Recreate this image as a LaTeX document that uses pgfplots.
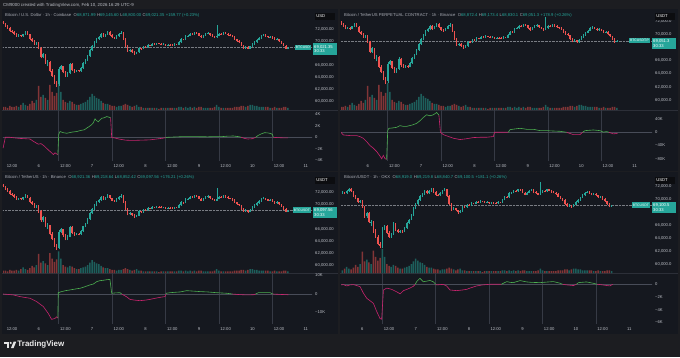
\documentclass[border=0pt]{standalone}
\usepackage{pgfplots}
\usepackage{pgfplotstable}
\pgfplotsset{compat=1.18}
\usepackage{fontspec}
\setmainfont{Liberation Sans}
\definecolor{outerbg}{RGB}{28,29,33}
\definecolor{panelbg}{RGB}{21,24,31}
\definecolor{bordc}{RGB}{44,47,56}
\definecolor{tvtext}{RGB}{188,191,198}
\definecolor{lgtext}{RGB}{170,173,182}
\definecolor{upc}{RGB}{38,166,154}
\definecolor{dnc}{RGB}{239,83,80}
\definecolor{cvdg}{RGB}{76,175,80}
\definecolor{cvdm}{RGB}{200,36,110}
\definecolor{sess}{RGB}{54,58,69}
\definecolor{zeroln}{RGB}{72,76,88}
\definecolor{usdbg}{RGB}{12,13,16}
\newcommand{\tvf}{\fontsize{4.2}{4.6}\selectfont}
\newcommand{\ohlc}[6]{\hspace{2.5bp}\textcolor{lgtext}{O}\textcolor{upc}{#1}\hspace{1.5bp}\textcolor{lgtext}{H}\textcolor{upc}{#2}\hspace{1.5bp}\textcolor{lgtext}{L}\textcolor{upc}{#3}\hspace{1.5bp}\textcolor{lgtext}{C}\textcolor{upc}{#4}\hspace{1.5bp}\textcolor{upc}{#5 (#6)}}

\pgfplotstableread{
t o h l c v
8 73350 73500 72900 73050 3
9 73050 73150 72500 72650 3
10 72650 72800 72150 72300 2
11 72300 72400 71650 71800 4
12 71800 72000 71500 71650 3
13 71650 71800 71150 71300 3
14 71300 71450 70800 70950 4
15 70950 71200 70850 71050 3
16 71050 71150 70750 70900 5
17 70900 71350 70800 71250 7
18 71250 71750 71150 71600 5
19 71600 71700 71100 71200 4
20 71200 71300 70300 70450 6
21 70450 70600 70000 70150 9
22 70150 70250 69450 69600 7
23 69600 69950 69400 69800 10
24 69800 69900 68700 68900 24
25 68900 69050 67200 67400 13
26 67400 68100 67200 67900 15
27 67900 68000 66300 66500 12
28 66500 66900 65900 66600 10
29 66600 66700 64900 65100 25
30 65100 65400 64100 64300 18
31 64300 64500 63000 63200 14
32 63200 63500 62500 62900 17
33 62900 65800 62600 65500 27
34 65500 66100 65300 65900 18
35 65900 66000 64700 64900 10
36 64900 65100 64100 64300 8
37 64300 64900 64150 64700 7
38 64700 66500 64600 66300 9
39 66300 66400 65100 65300 8
40 65300 65450 64850 65000 6
41 65000 65350 64900 65200 5
42 65200 65300 64900 65100 5
43 65100 65750 65000 65600 6
44 65600 66550 65500 66400 7
45 66400 67050 66250 66900 8
46 66900 67750 66800 67600 10
47 67600 68750 67500 68600 13
48 68600 69450 68450 69300 16
49 69300 70050 69150 69900 14
50 69900 70650 69750 70500 12
51 70500 70950 70350 70800 11
52 70800 71450 70650 71300 9
53 71300 71400 70750 70900 7
54 70900 71350 70800 71200 6
55 71200 71750 71100 71600 6
56 71600 71700 70950 71100 5
57 71100 71200 70550 70700 4
58 70700 70850 70450 70600 4
59 70600 71050 70500 70900 3
60 70900 71400 70800 71300 4
61 71300 71800 71200 71500 4
62 71500 71600 70350 70500 5
63 70500 70600 69150 69300 6
64 69300 69400 68250 68400 5
65 68400 68750 68300 68600 4
66 68600 68700 68150 68300 3
67 68300 68400 67800 68000 4
68 68000 68350 67900 68200 5
69 68200 69050 68100 68900 3
70 68900 69000 68650 68800 3
71 68800 69350 68700 69200 2
72 69200 69300 68950 69100 2
73 69100 69550 69000 69400 2
74 69400 69500 69250 69350 2
75 69350 69750 69300 69600 2
76 69600 69700 69450 69550 2
77 69550 69850 69450 69700 2
78 69700 69800 69550 69650 1
79 69650 69750 69400 69500 2
80 69500 69700 69400 69550 2
81 69550 69650 69300 69400 2
82 69400 69650 69350 69500 2
83 69500 69600 69350 69450 2
84 69450 69550 69300 69400 2
85 69400 69700 69350 69550 2
86 69550 69650 69400 69500 2
87 69500 70050 69450 69900 3
88 69900 70550 69850 70400 3
89 70400 70500 70200 70300 2
90 70300 71050 70250 70900 3
91 70900 71150 70800 71000 2
92 71000 71450 70900 71300 3
93 71300 71400 71100 71200 2
94 71200 71650 71150 71500 3
95 71500 71600 71300 71400 2
96 71400 71500 70900 71000 3
97 71000 71100 70600 70700 3
98 70700 71150 70650 71000 2
99 71000 71450 70950 71300 2
100 71300 71550 71200 71400 2
101 71400 71500 71000 71100 2
102 71100 71200 70800 70900 2
103 70900 71000 70600 70700 3
104 70700 72700 70650 71000 5
105 71000 71450 70900 71300 3
106 71300 71400 71100 71200 2
107 71200 71650 71150 71500 2
108 71500 71600 71200 71300 2
109 71300 71400 71000 71100 2
110 71100 71200 70900 71000 2
111 71000 71100 70700 70800 2
112 70800 70900 70300 70400 3
113 70400 70500 70000 70100 3
114 70100 70200 69800 69900 3
115 69900 70000 69200 69300 4
116 69300 69400 68800 68900 4
117 68900 69250 68850 69100 3
118 69100 69200 68700 68800 4
119 68800 69350 68750 69200 5
120 69200 69750 69100 69600 5
121 69600 70050 69500 69900 4
122 69900 70400 69800 70300 4
123 70300 70750 70200 70600 3
124 70600 71150 70500 71000 3
125 71000 71250 70900 71100 3
126 71100 71200 70800 70900 3
127 70900 71000 70600 70700 3
128 70700 70950 70600 70800 2
129 70800 70900 70500 70600 2
130 70600 70700 70200 70300 3
131 70300 70550 70200 70400 2
132 70400 70500 69950 70050 2
133 70050 70150 69600 69700 2
134 69700 69800 69200 69300 3
135 69300 69400 68750 68860 3
136 68872 69146 68800 69021 2
}\pricetab

\pgfplotsset{
 tvbase/.style={scale only axis, axis line style={draw=none},
   major tick length=0pt, tick style={draw=none},
   scaled x ticks=false, scaled y ticks=false,
   ticklabel style={font=\tvf, text=tvtext, inner sep=0pt},
   xtick=\empty, ytick=\empty},
 pricepane/.style={tvbase, height=100bp, yticklabel pos=right,
   yticklabel style={xshift=3bp}},
 volpane/.style={tvbase, height=100bp, ymin=0, hide axis},
 cvdpane/.style={tvbase, height=50bp, yticklabel pos=right,
   yticklabel style={xshift=3bp},
   xticklabel style={yshift=-3bp}},
}

\newcommand{\candles}{%
\addplot[draw=upc, line width=0.45bp, -, quiver={u=0, v={\thisrow{h}-\thisrow{l}}},
  restrict expr to domain={\thisrow{c}-\thisrow{o}}{0:1000000}]
  table[x=t, y=l] {\pricetab};
\addplot[draw=upc, line width=1.45bp, -, quiver={u=0, v={\thisrow{c}-\thisrow{o}}},
  restrict expr to domain={\thisrow{c}-\thisrow{o}}{0:1000000}]
  table[x=t, y=o] {\pricetab};
\addplot[draw=dnc, line width=0.45bp, -, quiver={u=0, v={\thisrow{h}-\thisrow{l}}},
  restrict expr to domain={\thisrow{c}-\thisrow{o}}{-1000000:-0.5}]
  table[x=t, y=l] {\pricetab};
\addplot[draw=dnc, line width=1.45bp, -, quiver={u=0, v={\thisrow{o}-\thisrow{c}}},
  restrict expr to domain={\thisrow{c}-\thisrow{o}}{-1000000:-0.5}]
  table[x=t, y=c] {\pricetab};
}
\newcommand{\volbars}{%
\addplot[ybar, bar width=1.5bp, bar shift=0pt, draw=none, fill=upc, fill opacity=0.5,
  restrict expr to domain={\thisrow{c}-\thisrow{o}}{0:1000000}] table[x=t, y=v] {\pricetab};
\addplot[ybar, bar width=1.5bp, bar shift=0pt, draw=none, fill=dnc, fill opacity=0.5,
  restrict expr to domain={\thisrow{c}-\thisrow{o}}{-1000000:-0.5}] table[x=t, y=v] {\pricetab};
}
\newcommand{\sesslines}{%
\pgfplotsinvokeforeach{33,57,81,105,129}{\addplot[sess, line width=0.5bp] coordinates {(##1,-200)(##1,200)};}
\addplot[zeroln, line width=0.4bp] coordinates {(0,0)(200,0)};
}

\begin{document}
\begin{tikzpicture}[x=1bp,y=1bp]
\fill[outerbg] (0,0) rectangle (680,357);
\fill[panelbg] (2,186) rectangle (338,348);
\fill[panelbg] (340,186) rectangle (678,348);
\fill[panelbg] (2,23) rectangle (338,185);
\fill[panelbg] (340,23) rectangle (678,185);
\draw[bordc, line width=0.5bp] (2,246.5) -- (338,246.5);
\draw[bordc, line width=0.5bp] (340,246.5) -- (678,246.5);
\draw[bordc, line width=0.5bp] (2,83.5) -- (338,83.5);
\draw[bordc, line width=0.5bp] (340,83.5) -- (678,83.5);

% ================= Panel 1 =================
\begin{axis}[volpane, at={(3bp,247bp)}, anchor=south west, width=309bp, xmin=7.96, xmax=146.8, ymax=100]
\volbars
\end{axis}
\begin{axis}[pricepane, at={(3bp,247bp)}, anchor=south west, width=309bp, xmin=7.96, xmax=146.8, ymin=58617, ymax=75283,
  ytick={60000,62000,64000,66000,70000,72000},
  yticklabels={{60,000.00},{62,000.00},{64,000.00},{66,000.00},{70,000.00},{72,000.00}}]
\addplot[densely dotted, color=tvtext!60!panelbg, line width=0.4bp] coordinates {(0,69021)(200,69021)};
\candles
\end{axis}
\begin{axis}[cvdpane, at={(3bp,196bp)}, anchor=south west, width=309bp, xmin=7.96, xmax=146.8, ymin=-4.12, ymax=4.57,
  ytick={-4,-2,0,2,4}, yticklabels={−4K,−2K,0,2K,4K},
  xtick={12,24,36,48,60,72,84,96,108,120,132,144},
  xticklabels={12:00,6,12:00,7,12:00,8,12:00,9,12:00,10,12:00,11}]
\sesslines
\addplot[cvdm, line width=0.6bp] coordinates {(8,-1.9)(9,0)(11,0)(13,-0.1)(15.6,-0.2)(18,-0.25)(20.1,-0.3)(21.6,-0.7)(23.8,-1.2)(25,-1.1)(26.1,-1.4)(27,-1.7)(28.3,-2.2)(29.5,-2.6)(30.6,-3.0)(31.3,-2.7)(32.1,-2.9)(32.6,-3.0)};
\addplot[cvdg, line width=0.6bp] coordinates {(32.6,-3.0)(33,0.5)(33.6,1.0)(35,0.8)(36.6,0.7)(39,0.9)(41.1,1.0)(43,1.2)(44.5,1.3)(45.6,1.6)(46.8,1.9)(47.8,2.2)(48.5,2.5)(49.3,3.2)(50,2.9)(50.8,2.7)(51.5,3.0)(52.3,3.3)(53.5,3.4)(54.6,3.6)(55.5,3.5)(56.3,3.4)};
\addplot[cvdm, line width=0.6bp] coordinates {(56.3,3.4)(56.8,-0.05)(58,-0.1)(60,-0.3)(63,-0.5)(66,-0.55)(70,-0.5)(74,-0.45)(77,-0.3)(80,-0.15)(81,-0.05)};
\addplot[cvdg, line width=0.6bp] coordinates {(81,-0.05)(82,0.0)(85,0.05)(88,0.1)(92,0.12)(96,0.1)(100,0.08)(104,0.12)(106,0.1)(109,0.2)(111.5,0.22)(114,0.1)(115,0)};
\addplot[cvdm, line width=0.6bp] coordinates {(115,0)(116.5,-0.2)(118,-0.3)(120,-0.25)(121.5,0)};
\addplot[cvdg, line width=0.6bp] coordinates {(121.5,0)(122.5,0.3)(124,0.6)(125.5,0.8)(127,0.75)(128.3,0.65)(129,0.5)(129.4,0)};
\addplot[cvdm, line width=0.6bp] coordinates {(129.4,0)(131,-0.05)(134,-0.1)(136,-0.1)};
\end{axis}

% ================= Panel 2 =================
\begin{axis}[volpane, at={(341bp,247bp)}, anchor=south west, width=311bp, xmin=12, xmax=151.8, ymax=100]
\volbars
\end{axis}
\begin{axis}[pricepane, at={(341bp,247bp)}, anchor=south west, width=311bp, xmin=12, xmax=151.8, ymin=58473, ymax=73743,
  ytick={60000,62000,64000,66000,70000,72000},
  yticklabels={{60,000.0},{62,000.0},{64,000.0},{66,000.0},{70,000.0},{72,000.0}}]
\addplot[densely dotted, color=tvtext!60!panelbg, line width=0.4bp] coordinates {(0,69051)(200,69051)};
\candles
\end{axis}
\begin{axis}[cvdpane, at={(341bp,196bp)}, anchor=south west, width=311bp, xmin=12, xmax=151.8, ymin=-87, ymax=64.5,
  ytick={-80,-40,0,40}, yticklabels={−80K,−40K,0,40K},
  xtick={24,36,48,60,72,84,96,108,120,132,144},
  xticklabels={6,12:00,7,12:00,8,12:00,9,12:00,10,12:00,11}]
\sesslines
\addplot[cvdm, line width=0.6bp] coordinates {(12,0)(13,-8)(14.5,-9)(16,-10)(19,-10)(20.5,-13)(22,-18)(23.5,-28)(25,-40)(26.5,-48)(28,-58)(29.3,-70)(30.3,-80)(31,-70)(31.8,-80)(32.5,-82)};
\addplot[cvdg, line width=0.6bp] coordinates {(32.5,-82)(33,5)(33.5,12)(35,13)(37,15)(38.5,20)(40,18)(41.5,18)(44,22)(46,27)(47.5,35)(49,45)(50.5,53)(52,50)(53.5,53)(55,60)(56,52)};
\addplot[cvdm, line width=0.6bp] coordinates {(56,52)(56.7,0)(58,-7)(60,-12)(62.5,-18)(65.5,-22)(68,-20)(71.5,-16)(75,-15)(77.5,-15)(80.5,-13)(81,0)(86.5,0)(87.2,0)};
\addplot[cvdg, line width=0.6bp] coordinates {(87.2,0)(88,8)(90,10)(92.5,12)(95.5,9)(98.5,9)(101.5,5)(104.4,5)(107,4)(110.4,3)(113.4,0)};
\addplot[cvdm, line width=0.6bp] coordinates {(113.4,0)(116.4,-7)(119.4,-7)(120.6,0)};
\addplot[cvdg, line width=0.6bp] coordinates {(120.6,0)(121.7,5)(125.4,7)(128.4,5)(129.9,0.5)(131.4,2)(132.5,0)};
\addplot[cvdm, line width=0.6bp] coordinates {(132.5,0)(134.4,-5)(136.3,-3)};
\end{axis}

% ================= Panel 3 =================
\begin{axis}[volpane, at={(3bp,84bp)}, anchor=south west, width=309bp, xmin=7.96, xmax=146.8, ymax=125]
\volbars
\end{axis}
\begin{axis}[pricepane, at={(3bp,84bp)}, anchor=south west, width=309bp, xmin=7.96, xmax=146.8, ymin=58672, ymax=75272,
  ytick={60000,62000,64000,66000,70000,72000},
  yticklabels={{60,000.00},{62,000.00},{64,000.00},{66,000.00},{70,000.00},{72,000.00}}]
\addplot[densely dotted, color=tvtext!60!panelbg, line width=0.4bp] coordinates {(0,69097)(200,69097)};
\candles
\end{axis}
\begin{axis}[cvdpane, at={(3bp,33bp)}, anchor=south west, width=309bp, xmin=7.96, xmax=146.8, ymin=-16.2, ymax=10.8,
  ytick={-10,0,10}, yticklabels={−10K,0,10K},
  xtick={12,24,36,48,60,72,84,96,108,120,132,144},
  xticklabels={12:00,6,12:00,7,12:00,8,12:00,9,12:00,10,12:00,11}]
\sesslines
\addplot[cvdm, line width=0.6bp] coordinates {(8,0)(10,-0.2)(12.6,-0.5)(15.6,-1.4)(18,-1.9)(20.1,-2.3)(23.1,-4.1)(26.1,-6.8)(28.3,-10.5)(29.8,-13.7)(31.3,-13.2)(32.1,-12.3)(32.6,-13)};
\addplot[cvdg, line width=0.6bp] coordinates {(32.6,-13)(32.8,0.7)(34.3,1.3)(36,1.8)(38.1,2.2)(40,2.6)(42.6,3.1)(44,3.6)(45.6,4.3)(47,4.9)(48.6,5.4)(50.1,6.7)(51.5,7.2)(53,7.4)(54.5,7.7)(56,7.9)(56.8,0.4)(58.5,0.6)(60.5,0.7)(61.3,0)};
\addplot[cvdm, line width=0.6bp] coordinates {(61.3,0)(62,-0.5)(63.5,-1.5)(65,-2.9)(67,-3.3)(69.5,-3.6)(72,-3.3)(74,-2.9)(76,-2.4)(78.5,-1.8)(80.8,-1.4)(81.2,0)};
\addplot[cvdg, line width=0.6bp] coordinates {(81.2,0)(81.3,0.4)(83,0.7)(85,0.9)(87.5,1.1)(90.5,1.8)(93,1.6)(96.5,1.3)(100,1.1)(104,0.7)(108.5,0.4)(111,0)};
\addplot[cvdm, line width=0.6bp] coordinates {(111,0)(114,-0.3)(117.5,-0.5)(120.5,-0.4)(121.5,0)};
\addplot[cvdg, line width=0.6bp] coordinates {(121.5,0)(122.7,0.7)(125,0.75)(128,0.7)(129.2,0)};
\addplot[cvdm, line width=0.6bp] coordinates {(129.2,0)(132,-0.2)(136.2,-0.4)};
\end{axis}

% ================= Panel 4 =================
\begin{axis}[volpane, at={(341bp,84bp)}, anchor=south west, width=311bp, xmin=14.43, xmax=154.2, ymax=112]
\volbars
\end{axis}
\begin{axis}[pricepane, at={(341bp,84bp)}, anchor=south west, width=311bp, xmin=14.43, xmax=154.2, ymin=58731, ymax=74021,
  ytick={60000,62000,64000,66000,70000,72000},
  yticklabels={{60,000.0},{62,000.0},{64,000.0},{66,000.0},{70,000.0},{72,000.0}}]
\addplot[densely dotted, color=tvtext!60!panelbg, line width=0.4bp] coordinates {(0,69100)(200,69100)};
\candles
\end{axis}
\begin{axis}[cvdpane, at={(341bp,33bp)}, anchor=south west, width=311bp, xmin=14.43, xmax=154.2, ymin=-6.25, ymax=1.62,
  ytick={-6,-4,-2,0}, yticklabels={−6K,−4K,−2K,0},
  xtick={24,36,48,60,72,84,96,108,120,132,144},
  xticklabels={6,12:00,7,12:00,8,12:00,9,12:00,10,12:00,11}]
\sesslines
\addplot[cvdm, line width=0.6bp] coordinates {(14.4,-0.1)(15.5,-0.05)(17,-0.26)(18.5,-0.1)(20,-0.05)(21.5,-0.2)(23,-0.37)(24.5,-1.4)(26,-2.2)(27.5,-2.6)(29,-3.0)(30.5,-4.3)(32,-5.4)(32.7,-5.5)(33.5,-0.9)(35,-0.6)(37.2,-0.8)(39.5,-1.2)(41,-1.5)(42.5,-1.0)(44,-0.8)(45.4,-0.6)(47,-0.3)(47.8,0)};
\addplot[cvdg, line width=0.6bp] coordinates {(47.8,0)(48.4,0.4)(49.9,0.95)(51.4,0.4)(53,0.5)(54.4,0.6)(55.9,0.4)(57,0)};
\addplot[cvdm, line width=0.6bp] coordinates {(57,0)(57.4,-0.1)(59,-0.05)(60.4,-0.02)(61.9,-0.26)(63.4,-0.9)(66.4,-1.0)(69,-0.9)(70.9,-0.8)(72.4,-0.6)(75.4,-0.26)(78,-0.1)(81.4,0)(85,0)(86.5,0)};
\addplot[cvdg, line width=0.6bp] coordinates {(86.5,0)(87.4,0.16)(88.9,0.42)(90.5,0.3)(91.9,0.26)(94.9,0.58)(97.9,0.37)(100,0.3)(103.9,0.26)(107,0.35)(109.9,0.42)(112.9,0.16)(114,0)};
\addplot[cvdm, line width=0.6bp] coordinates {(114,0)(116,-0.1)(118.9,-0.2)(120.3,0)};
\addplot[cvdg, line width=0.6bp] coordinates {(120.3,0)(121.1,0.26)(124.8,0.37)(127.8,0.16)(129.5,0)};
\addplot[cvdm, line width=0.6bp] coordinates {(129.5,0)(131,-0.05)(133,-0.15)(135.3,-0.26)(136.5,0)};
\end{axis}

% ================= texts and labels =================
\node[anchor=west, inner sep=0, font=\fontsize{4.4}{5}\selectfont, text=tvtext] at (3,352) {CM9000 created with TradingView.com, Feb 10, 2026 16:29 UTC-9};

\node[anchor=west, inner sep=0, font=\tvf] at (5,342) {\textcolor{lgtext}{Bitcoin / U.S. Dollar · 1h · Coinbase}\ohlc{68,871.99}{69,145.60}{68,800.00}{69,021.35}{+159.77}{+0.23\%}};
\node[anchor=west, inner sep=0, font=\tvf] at (344,342) {\textcolor{lgtext}{Bitcoin / TetherUS PERPETUAL CONTRACT · 1h · Binance}\ohlc{68,872.4}{69,173.4}{68,830.1}{69,051.3}{+178.9}{+0.26\%}};
\node[anchor=west, inner sep=0, font=\tvf] at (5,179.7) {\textcolor{lgtext}{Bitcoin / TetherUS · 1h · Binance}\ohlc{68,921.36}{69,218.64}{68,852.42}{69,097.56}{+176.21}{+0.26\%}};
\node[anchor=west, inner sep=0, font=\tvf] at (344,179.7) {\textcolor{lgtext}{Bitcoin/USDT · 1h · OKX}\ohlc{68,919.0}{69,219.8}{68,840.7}{69,100.5}{+181.1}{+0.26\%}};

% currency boxes
\node[anchor=west, fill=usdbg, text=white, font=\tvf, inner sep=1.2bp, minimum height=7bp, text width=17bp, align=left] at (315,340.5) {USD};
\node[anchor=west, fill=usdbg, text=white, font=\tvf, inner sep=1.2bp, minimum height=7bp, text width=17bp, align=left] at (655,340.5) {USDT};
\node[anchor=west, fill=usdbg, text=white, font=\tvf, inner sep=1.2bp, minimum height=7bp, text width=17bp, align=left] at (315,177) {USDT};
\node[anchor=west, fill=usdbg, text=white, font=\tvf, inner sep=1.2bp, minimum height=7bp, text width=17bp, align=left] at (655,177) {USDT};

% last price labels
\node[anchor=east, fill=upc, text=white, font=\fontsize{3.4}{3.6}\selectfont, inner sep=0.9bp, minimum height=5.5bp] at (311,309.4) {BTCUSD};
\node[anchor=west, fill=upc, text=white, font=\tvf, inner sep=1bp, text width=22bp, align=left, minimum height=11.5bp] at (313,307.8) {69,021.35\\30:33};
\node[anchor=east, fill=upc, text=white, font=\fontsize{3.4}{3.6}\selectfont, inner sep=0.9bp, minimum height=5.5bp] at (650,316.3) {BTCUSDT.P};
\node[anchor=west, fill=upc, text=white, font=\tvf, inner sep=1bp, text width=22bp, align=left, minimum height=11.5bp] at (652,313.5) {69,051.3\\30:33};
\node[anchor=east, fill=upc, text=white, font=\fontsize{3.4}{3.6}\selectfont, inner sep=0.9bp, minimum height=5.5bp] at (311,146.8) {BTCUSDT};
\node[anchor=west, fill=upc, text=white, font=\tvf, inner sep=1bp, text width=22bp, align=left, minimum height=11.5bp] at (313,144.6) {69,097.56\\30:33};
\node[anchor=east, fill=upc, text=white, font=\fontsize{3.4}{3.6}\selectfont, inner sep=0.9bp, minimum height=5.5bp] at (650,151.8) {BTCUSDT};
\node[anchor=west, fill=upc, text=white, font=\tvf, inner sep=1bp, text width=22bp, align=left, minimum height=11.5bp] at (652,149.6) {69,100.5\\30:33};

% footer logo
\fill[white!90!black] (4.2,12.9) rectangle (9,15.3);
\fill[white!90!black] (6.6,9.0) rectangle (9,15.3);
\fill[white!90!black] (10.7,14.1) circle (1.15);
\fill[white!90!black] (11.0,9.0) -- (13.6,9.0) -- (16.2,15.3) -- (13.6,15.3) -- cycle;
\node[anchor=west, inner sep=0, font=\fontsize{8}{9}\selectfont\bfseries, text=white!92!black] at (17.3,12.1) {TradingView};
\pgfresetboundingbox
\path[use as bounding box] (0,0) rectangle (680,357);
\end{tikzpicture}
\end{document}
